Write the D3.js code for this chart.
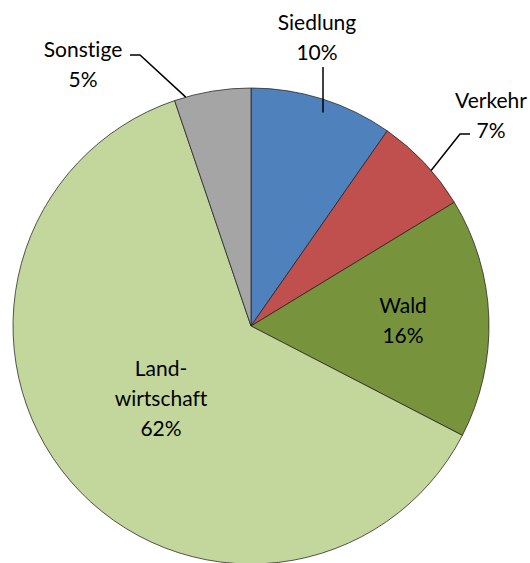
<!DOCTYPE html>
<html>
<head>
<meta charset="utf-8">
<script src="https://cdn.jsdelivr.net/npm/d3@7"></script>
<style>
  body { margin: 0; background: #fff; }
  text { font-family: Lato, "Open Sans", sans-serif; font-size: 21px; fill: #000; font-variant-ligatures: none; }
</style>
</head>
<body>
<svg></svg>
<script>
// Chart data
var categories = ["Siedlung", "Verkehr", "Wald", "Landwirtschaft", "Sonstige"];
var values = [9.7, 6.6, 16.3, 62.2, 5.2];
var labelLines = [["Siedlung", "10%"], ["Verkehr", "7%"], ["Wald", "16%"], ["Land-", "wirtschaft", "62%"], ["Sonstige", "5%"]];
var colors = ["#4F81BD", "#C0504D", "#77933C", "#C3D69B", "#A5A5A5"];

var width = 530;
var height = 563;
var cx = 251, cy = 326, radius = 238;

var svg = d3.select("svg")
  .attr("width", width)
  .attr("height", height);

var g = svg.append("g")
  .attr("transform", "translate(" + cx + "," + cy + ")");

var pie = d3.pie().sort(null).value(function(d) { return d; });
var arc = d3.arc().innerRadius(0).outerRadius(radius);
var arcs = pie(values);

g.selectAll(".slice")
  .data(arcs)
  .enter()
  .append("path")
  .attr("class", "slice")
  .attr("d", arc)
  .attr("fill", function(d, i) { return colors[i]; })
  .attr("stroke", "#222")
  .attr("stroke-width", 0.75);

// label anchor positions relative to centre (text centre x, first baseline y)
var labelPos = [[66, -296], [240, -218], [152, -13], [-90, 50], [-168, -269]];

var labels = g.selectAll(".label")
  .data(arcs)
  .enter()
  .append("text")
  .attr("class", "label")
  .attr("text-anchor", "middle")
  .attr("x", function(d, i) { return labelPos[i][0]; })
  .attr("y", function(d, i) { return labelPos[i][1]; });

labels.selectAll("tspan")
  .data(function(d, i) { return labelLines[i].map(function(t) { return { t: t, i: i }; }); })
  .enter()
  .append("tspan")
  .attr("x", function(d) { return labelPos[d.i][0]; })
  .attr("dy", function(d, j) { return j === 0 ? 0 : 30; })
  .text(function(d) { return d.t; });

// leader lines for outside labels
function edgePoint(d, frac) {
  var a = d.startAngle + (d.endAngle - d.startAngle) * frac;
  return [Math.sin(a) * radius, -Math.cos(a) * radius];
}
var leaders = [
  { i: 0, frac: 0.75, pts: [[72, -259]] },
  { i: 1, frac: 0.6, pts: [[209, -192], [219, -192]] },
  { i: 4, frac: 0.15, pts: [[-111, -271], [-121, -271]] }
];
leaders.forEach(function(l) {
  var p = edgePoint(arcs[l.i], l.frac);
  var pts = l.i === 0 ? [[l.pts[0][0], p[1]], l.pts[0]] : [p].concat(l.pts);
  g.append("path")
    .attr("d", d3.line()(pts))
    .attr("fill", "none")
    .attr("stroke", "#000")
    .attr("stroke-width", 1.5);
});
</script>
</body>
</html>
